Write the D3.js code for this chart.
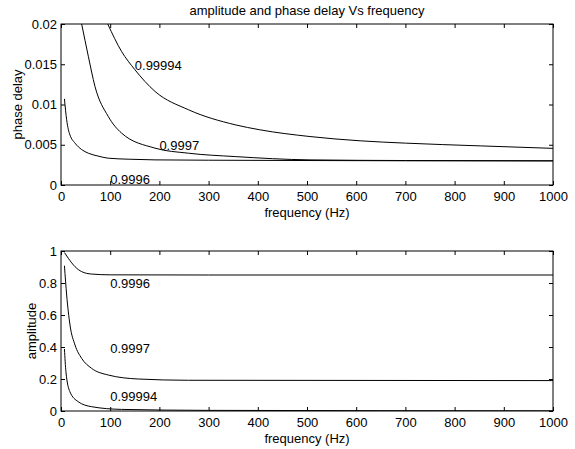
<!DOCTYPE html>
<html>
<head>
<meta charset="utf-8">
<script src="https://cdn.jsdelivr.net/npm/d3@7/dist/d3.min.js"></script>
<style>
    body { margin: 0; background: #fff; }
    svg { display: block; font-family: "Liberation Sans", Arial, Helvetica, sans-serif; }
    .tick line { stroke: #000; }
    .tick text { fill: #000; font-size: 13px; }
    .domain { display: none; }
</style>
</head>
<body>
<div id="chart"></div>
<script>
// values
const xTicks = [0, 100, 200, 300, 400, 500, 600, 700, 800, 900, 1000];
const phaseTicks = [0, 0.005, 0.01, 0.015, 0.02];
const ampTicks = [0, 0.2, 0.4, 0.6, 0.8, 1];

const phase9996 = [[7, 0.0107], [11.5, 0.0081], [14.9, 0.0069], [18.3, 0.0062], [28.5, 0.0052], [42, 0.0044],
    [55.5, 0.00395], [75, 0.0036], [96, 0.00333], [140, 0.0032], [191, 0.00312], [300, 0.00308], [500, 0.00304],
    [700, 0.00301], [1000, 0.00299]];
const phase9997 = [[42, 0.02], [55.5, 0.016], [69, 0.01226], [96, 0.00852], [123, 0.00645], [191, 0.00458],
    [259, 0.00395], [354, 0.00353], [506, 0.00312], [700, 0.00304], [1000, 0.00301]];
const phase99994 = [[95, 0.02], [123, 0.0166], [150, 0.01434], [191, 0.01163], [259, 0.00935], [354, 0.00748],
    [404, 0.00686], [506, 0.00602], [608, 0.00549], [700, 0.0052], [852, 0.00486], [1000, 0.00455]];

const amp9996 = [[7, 0.99], [15, 0.954], [28.5, 0.902], [42, 0.871], [62, 0.856], [100, 0.851], [300, 0.85], [1000, 0.85]];
const amp9997 = [[7, 0.908], [11.5, 0.725], [18.3, 0.5375], [28.5, 0.4125], [42, 0.329], [62, 0.267], [96, 0.225],
    [157, 0.2], [259, 0.192], [1000, 0.19]];
const amp99994 = [[7, 0.3875], [10, 0.246], [18, 0.121], [35, 0.058], [62, 0.027], [123, 0.01], [300, 0.004], [1000, 0.001]];

const phaseLabels = [["0.99994", 150, 0.01484], ["0.9997", 200, 0.0049], ["0.9996", 100, 0.00075]];
const ampLabels = [["0.9996", 100, 0.798], ["0.9997", 100, 0.389], ["0.99994", 100, 0.089]];

const width = 575, height = 449;
const svg = d3.select("#chart").append("svg").attr("width", width).attr("height", height);

svg.append("text")
    .attr("x", 307).attr("y", 10).attr("dy", "0.35em")
    .attr("text-anchor", "middle").attr("font-size", 13)
    .text("amplitude and phase delay Vs frequency");

function drawPanel(box, yDomain, yTickVals, yFormat, series, labels, yTitle, yTitleX, id) {
    const x = d3.scaleLinear().domain([0, 1000]).range([box.left, box.right]);
    const y = d3.scaleLinear().domain(yDomain).range([box.bottom, box.top]);
    const g = svg.append("g");

    g.append("clipPath").attr("id", id)
        .append("rect")
        .attr("x", box.left).attr("y", box.top)
        .attr("width", box.right - box.left).attr("height", box.bottom - box.top);

    g.append("g").attr("transform", `translate(0, ${box.bottom})`)
        .call(d3.axisBottom(x).tickValues(xTicks).tickSize(-4).tickPadding(7).tickFormat(d3.format("d")));
    g.append("g").attr("transform", `translate(0, ${box.top})`)
        .call(d3.axisTop(x).tickValues(xTicks).tickSize(-4).tickFormat(""));
    g.append("g").attr("transform", `translate(${box.left}, 0)`)
        .call(d3.axisLeft(y).tickValues(yTickVals).tickSize(-4).tickPadding(4).tickFormat(yFormat));
    g.append("g").attr("transform", `translate(${box.right}, 0)`)
        .call(d3.axisRight(y).tickValues(yTickVals).tickSize(-4).tickFormat(""));

    g.append("rect")
        .attr("x", box.left).attr("y", box.top)
        .attr("width", box.right - box.left).attr("height", box.bottom - box.top)
        .attr("fill", "none").attr("stroke", "#000").attr("stroke-width", 1);

    const line = d3.line().x(d => x(d[0])).y(d => y(d[1])).curve(d3.curveMonotoneX);
    g.append("g").attr("clip-path", `url(#${id})`)
        .selectAll("path").data(series).join("path")
        .attr("d", line)
        .attr("fill", "none").attr("stroke", "#000").attr("stroke-width", 1);

    g.selectAll("text.lbl").data(labels).join("text")
        .attr("class", "lbl")
        .attr("x", d => x(d[1])).attr("y", d => y(d[2])).attr("dy", "0.35em")
        .attr("font-size", 13)
        .text(d => d[0]);

    g.append("text")
        .attr("x", (box.left + box.right) / 2).attr("y", box.bottom + 27).attr("dy", "0.35em")
        .attr("text-anchor", "middle").attr("font-size", 13)
        .text("frequency (Hz)");

    g.append("text")
        .attr("transform", `translate(${yTitleX}, ${(box.top + box.bottom) / 2}) rotate(-90)`)
        .attr("dy", "0.35em")
        .attr("text-anchor", "middle").attr("font-size", 13)
        .text(yTitle);
}

const fmt = d => d === 0 ? "0" : String(d);

drawPanel({ left: 61, right: 553, top: 24, bottom: 185 }, [0, 0.02], phaseTicks, fmt,
    [phase9996, phase9997, phase99994], phaseLabels, "phase delay", 17, "clipTop");
drawPanel({ left: 61, right: 553, top: 251, bottom: 411 }, [0, 1], ampTicks, fmt,
    [amp9996, amp9997, amp99994], ampLabels, "amplitude", 31, "clipBottom");
</script>
</body>
</html>
